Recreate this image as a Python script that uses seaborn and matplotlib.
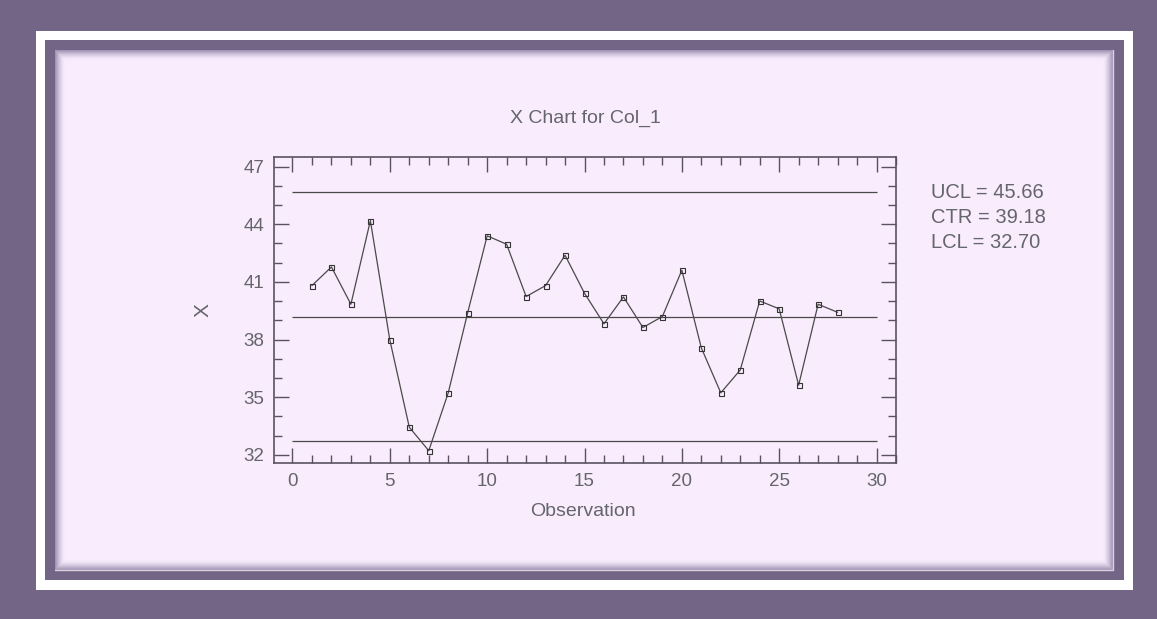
import numpy as np
import pandas as pd
import matplotlib
matplotlib.use("Agg")
import matplotlib.pyplot as plt
from matplotlib.patches import Rectangle
from matplotlib.ticker import MultipleLocator
import seaborn as sns

# ---- data ----
observations = list(range(1, 29))
x_values = [40.81, 41.78, 39.84, 44.19, 37.98, 33.44, 32.22, 35.23, 39.40, 43.40,
            42.96, 40.24, 40.81, 42.39, 40.41, 38.82, 40.22, 38.63, 39.20, 41.61,
            37.57, 35.23, 36.42, 40.01, 39.60, 35.63, 39.84, 39.42]
ucl, ctr, lcl = 45.66, 39.18, 32.70
limit_labels = ["UCL", "CTR", "LCL"]
limit_values = [ucl, ctr, lcl]
title = "X Chart for Col_1"
x_label = "Observation"
y_label = "X"
x_ticks = [0, 5, 10, 15, 20, 25, 30]
y_ticks = [32, 35, 38, 41, 44, 47]

# ---- style ----
sns.set_style("ticks")
plt.rcParams["font.family"] = ["Liberation Sans", "DejaVu Sans"]

PURPLE = "#736586"
PINK = np.array([0xF9, 0xEC, 0xFD]) / 255.0
SHADOW = np.array([0x9A, 0x8E, 0xB0]) / 255.0
TEXT = "#65656c"
AXC = "#5a5262"
LINEC = "#4a4a4a"

W, H = 1157, 619
fig = plt.figure(figsize=(W / 100, H / 100), dpi=100, facecolor=PURPLE)

# background decoration in pixel coordinates
bg = fig.add_axes([0, 0, 1, 1])
bg.set_xlim(0, W)
bg.set_ylim(H, 0)
bg.axis("off")
bg.add_patch(Rectangle((36, 31), 1133 - 36, 590 - 31, facecolor="white", edgecolor="none"))
bg.add_patch(Rectangle((45, 40), 1124 - 45, 580 - 40, facecolor=PURPLE, edgecolor="none"))

# pink panel with inner shadow
px0, py0, px1, py1 = 55, 50, 1113, 570
pw, ph = px1 - px0, py1 - py0
xx = np.arange(pw)[None, :] + 0.5
yy = np.arange(ph)[:, None] + 0.5
d = np.minimum(np.minimum(xx, pw - xx), np.minimum(yy, ph - yy))
t = np.clip(1 - d / 10.0, 0, 1) ** 1.5
img = PINK[None, None, :] * (1 - t[..., None]) + SHADOW[None, None, :] * t[..., None]
bg.imshow(img, extent=(px0, px1, py1, py0), interpolation="bilinear", zorder=1)
bg.plot([px0, px1, px1], [py1, py1, py0], color="#d8d2de", lw=1.0, zorder=2)
bg.set_xlim(0, W)
bg.set_ylim(H, 0)

# main axes
L, R, T, B = 274, 896, 157, 463
ax = fig.add_axes([L / W, (H - B) / H, (R - L) / W, (B - T) / H])
ax.set_facecolor(PINK)

df = pd.DataFrame({"Observation": observations, "X": x_values})
for v in limit_values:
    ax.hlines(v, 0, 30, color=LINEC, lw=0.9, zorder=2)
sns.lineplot(data=df, x="Observation", y="X", ax=ax, color=LINEC, lw=0.9,
             marker="s", markersize=3.6, markerfacecolor="none",
             markeredgecolor="#333333", markeredgewidth=0.8, zorder=3)

ax.set_xlim(-0.95, 31.0)
ax.set_ylim(31.58, 47.5)
ax.set_xticks(x_ticks)
ax.set_yticks(y_ticks)
ax.xaxis.set_minor_locator(MultipleLocator(1))
ax.yaxis.set_minor_locator(MultipleLocator(1))
ax.tick_params(which="both", direction="in", top=True, right=True, color=AXC,
               labelcolor=TEXT, labelsize=13.5, width=1.0)
ax.tick_params(which="major", length=11, pad=7)
ax.tick_params(which="minor", length=6)
for s in ax.spines.values():
    s.set_visible(True)
    s.set_color(AXC)
    s.set_linewidth(1.2)
ax.set_xlabel("")
ax.set_ylabel("")

fig.text(585 / W, 1 - 118 / H, title, ha="center", va="center", fontsize=14, color=TEXT)
fig.text(583 / W, 1 - 511 / H, x_label, ha="center", va="center", fontsize=14, color=TEXT)
fig.text(203 / W, 1 - 310 / H, y_label, ha="center", va="center", fontsize=15,
         color=TEXT, rotation=90)
for i, (lab, v) in enumerate(zip(limit_labels, limit_values)):
    fig.text(931 / W, 1 - (192 + i * 25.5) / H, f"{lab} = {v:.2f}", ha="left",
             va="center", fontsize=14.5, color=TEXT)

fig.savefig("out.png", dpi=100, facecolor=PURPLE)
